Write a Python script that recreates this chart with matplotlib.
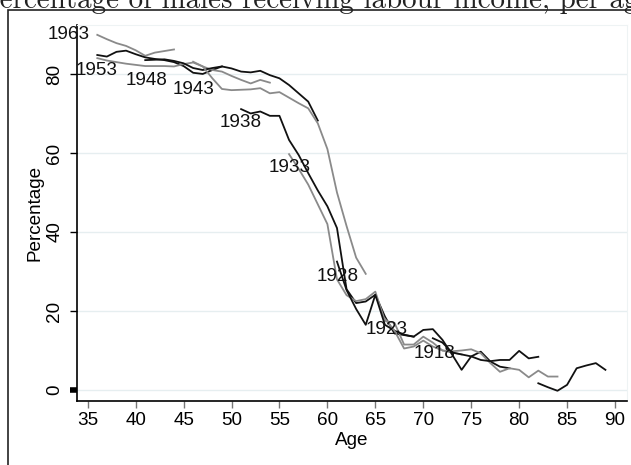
import matplotlib.pyplot as plt
from matplotlib.patches import Rectangle

# Percentage of males receiving labour income, by age, one line per birth cohort
ages1963 = list(range(36, 45))
pct1963 = [89.9, 88.8, 87.8, 87.1, 86.0, 84.6, 85.4, 85.8, 86.2]

ages1958 = list(range(36, 50))
pct1958 = [84.8, 84.4, 85.6, 85.9, 85.0, 84.2, 83.8, 83.5, 83.0, 82.0, 80.3, 80.0, 81.0, 81.9]

ages1953 = list(range(36, 55))
pct1953 = [84.0, 83.4, 83.0, 82.6, 82.3, 82.0, 82.0, 82.0, 81.9, 82.5, 82.9, 81.9, 81.0,
           80.6, 79.5, 78.5, 77.6, 78.5, 77.8]

ages1948 = list(range(41, 60))
pct1948 = [83.5, 83.6, 83.7, 83.3, 82.7, 81.5, 81.0, 81.5, 81.9, 81.4, 80.6, 80.4, 80.8,
           79.7, 78.9, 77.2, 75.1, 73.0, 68.2]

ages1943 = list(range(46, 65))
pct1943 = [83.1, 81.9, 78.9, 76.2, 75.9, 76.0, 76.1, 76.4, 75.1, 75.4, 74.0, 72.6, 71.3,
           67.5, 61.0, 50.0, 41.5, 33.5, 29.4]

ages1938 = list(range(51, 70))
pct1938 = [71.1, 70.0, 70.5, 69.4, 69.4, 63.3, 59.5, 54.9, 50.5, 46.5, 41.0, 25.5, 22.0,
           22.4, 24.1, 18.6, 14.3, 13.9, 13.5]

ages1933 = list(range(56, 75))
pct1933 = [59.7, 56.0, 52.0, 47.0, 42.0, 28.0, 24.0, 22.5, 23.0, 24.9, 17.5, 17.0, 11.5,
           11.5, 13.5, 12.0, 10.0, 9.5, 9.0]

ages1928 = list(range(61, 80))
pct1928 = [32.5, 25.3, 20.5, 16.5, 24.1, 16.5, 15.0, 14.0, 13.5, 15.2, 15.4, 12.7, 9.0,
           5.1, 8.5, 9.7, 7.2, 5.9, 5.5]

ages1923 = list(range(66, 85))
pct1923 = [18.0, 15.0, 10.5, 11.0, 12.5, 11.0, 10.0, 9.8, 10.0, 10.3, 9.3, 6.8, 4.6, 5.5,
           5.1, 3.2, 4.9, 3.4, 3.4]

ages1918 = list(range(71, 83))
pct1918 = [13.1, 12.0, 9.5, 9.0, 8.5, 7.6, 7.3, 7.6, 7.6, 9.9, 8.0, 8.4]

ages1908 = list(range(82, 90))
pct1908 = [1.7, 0.7, -0.2, 1.3, 5.5, 6.2, 6.8, 5.1]

# cohort labels and where they sit (age, percentage)
labels = ['1963', '1953', '1948', '1943', '1938', '1933', '1928', '1923', '1918']
label_x = [33.05, 35.9, 41.1, 46.0, 51.0, 56.05, 61.1, 66.15, 71.2]
label_y = [89.9, 81.0, 78.3, 76.1, 67.8, 56.4, 28.7, 15.2, 9.3]

black = '#111111'
grey = '#8a8a8a'

plt.rcParams['font.family'] = ['Liberation Sans', 'DejaVu Sans']

fig = plt.figure(figsize=(6.31, 4.65), dpi=100)
ax = fig.add_axes([0.1225, 0.1383, 0.8707, 0.808])

lines = [
    (ages1963, pct1963, grey), (ages1958, pct1958, black), (ages1953, pct1953, grey),
    (ages1948, pct1948, black), (ages1943, pct1943, grey), (ages1938, pct1938, black),
    (ages1933, pct1933, grey), (ages1928, pct1928, black), (ages1923, pct1923, grey),
    (ages1918, pct1918, black), (ages1908, pct1908, black),
]
for a, p, c in lines:
    ax.plot(a, p, color=c, linewidth=1.3)

for t, x, y in zip(labels, label_x, label_y):
    ax.text(x, y, t, ha='center', va='center', fontsize=13.6, color='#111111')

ax.set_xlim(33.915, 91.22)
ax.set_ylim(-2.71, 92.4)
ax.set_xticks(range(35, 95, 5))
ax.set_yticks(range(0, 100, 20))
ax.tick_params(axis='x', labelsize=13.6, length=5, width=1, color='#777777', pad=3)
ax.tick_params(axis='y', labelsize=13.6, length=5, width=1, pad=5)
for lab in ax.get_yticklabels():
    lab.set_rotation(90)
    lab.set_va('center')
# the 0 tick is drawn heavier in the original
ax.yaxis.get_major_ticks()[0].tick1line.set_markeredgewidth(4)

ax.grid(axis='y', color='#e6eef0', linewidth=1)
ax.set_axisbelow(True)
for s in ['top', 'right']:
    ax.spines[s].set_color('#eef3f4')
for s in ['left', 'bottom']:
    ax.spines[s].set_linewidth(1.2)

ax.set_xlabel('Age', fontsize=13.6, labelpad=2)
ax.set_ylabel('Percentage', fontsize=13.6, labelpad=2)

# page frame and clipped title above the graph
fig.patches.append(Rectangle((8.3 / 631, -0.1), 1.2, 1.1 - 10 / 465, transform=fig.transFigure,
                             fill=False, edgecolor='#222222', linewidth=1.2))
fig.text(-0.032, 1 - 8 / 465, 'Percentage of males receiving labour income, per age',
         family='cmr10', fontsize=20.9, va='baseline', ha='left', color='#222222')

fig.savefig('out.png', dpi=100)
